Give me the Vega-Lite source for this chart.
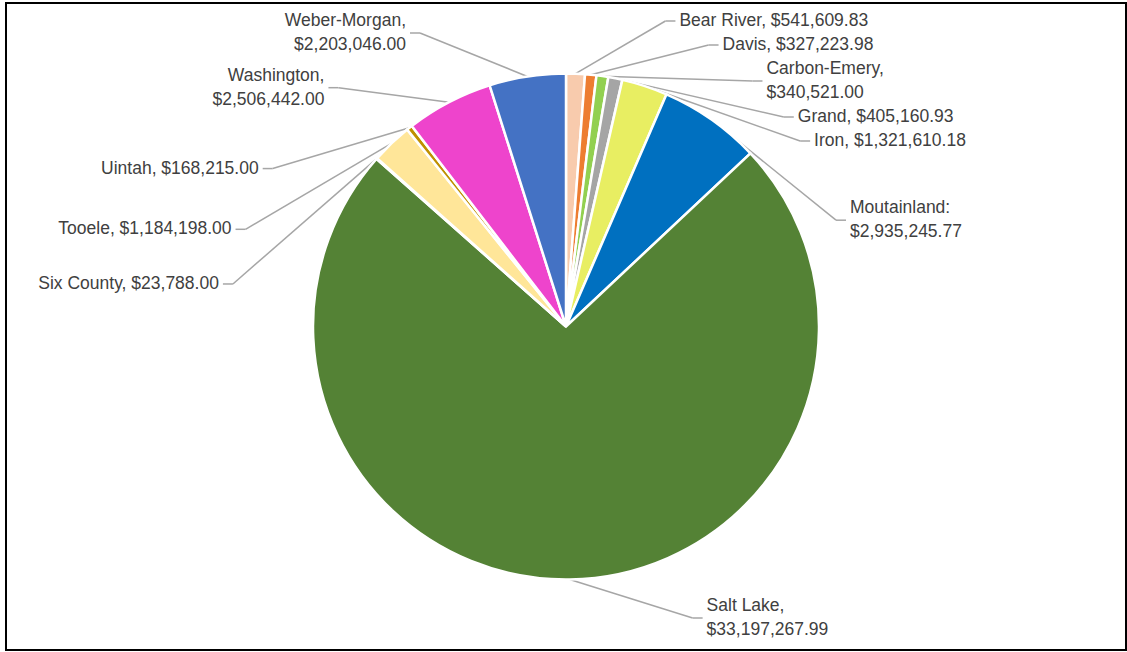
{
  "$schema": "https://vega.github.io/schema/vega-lite/v6.json",
  "width": 1127,
  "height": 652,
  "autosize": {"type": "fit", "contains": "padding"},
  "padding": {"left": 6, "top": 3, "right": 1, "bottom": 2},
  "background": "white",
  "config": {"view": {"stroke": "black", "strokeWidth": 2}},
  "data": {
    "values": [
      {"order": 1, "name": "Bear River", "value": 541609.83, "label": "Bear River, $541,609.83"},
      {"order": 2, "name": "Davis", "value": 327223.98, "label": "Davis, $327,223.98"},
      {"order": 3, "name": "Carbon-Emery", "value": 340521.00, "label": "Carbon-Emery,\n$340,521.00"},
      {"order": 4, "name": "Grand", "value": 405160.93, "label": "Grand, $405,160.93"},
      {"order": 5, "name": "Iron", "value": 1321610.18, "label": "Iron, $1,321,610.18"},
      {"order": 6, "name": "Moutainland", "value": 2935245.77, "label": "Moutainland:\n$2,935,245.77"},
      {"order": 7, "name": "Salt Lake", "value": 33197267.99, "label": "Salt Lake,\n$33,197,267.99"},
      {"order": 8, "name": "Six County", "value": 23788.00, "label": "Six County, $23,788.00"},
      {"order": 9, "name": "Tooele", "value": 1184198.00, "label": "Tooele, $1,184,198.00"},
      {"order": 10, "name": "Uintah", "value": 168215.00, "label": "Uintah, $168,215.00"},
      {"order": 11, "name": "Washington", "value": 2506442.00, "label": "Washington,\n$2,506,442.00"},
      {"order": 12, "name": "Weber-Morgan", "value": 2203046.00, "label": "Weber-Morgan,\n$2,203,046.00"}
    ]
  },
  "transform": [
    {"calculate": "pow(datum.value, 0.7)", "as": "pw"},
    {"window": [{"op": "sum", "field": "value", "as": "cum"}, {"op": "sum", "field": "pw", "as": "cumpw"}], "sort": [{"field": "order", "order": "ascending"}]},
    {"joinaggregate": [{"op": "sum", "field": "value", "as": "total"}, {"op": "sum", "field": "pw", "as": "totpw"}]},
    {"calculate": "2*PI*(datum.cum - datum.value/2)/datum.total", "as": "mid"},
    {"calculate": "2*PI*(datum.cumpw - datum.pw/2)/datum.totpw", "as": "la"},
    {"calculate": "datum.mid < PI ? 'R' : 'L'", "as": "side"},
    {"calculate": "datum.mid < PI ? 1 : -1", "as": "sg"},
    {"calculate": "datum.sg * datum.order", "as": "rank"},
    {"calculate": "indexof(datum.label, '\\n') >= 0 ? 48 : 24", "as": "h"},
    {"calculate": "clamp(330*cos(datum.la), -(323.5 - datum.h/2 - 8), 323.5 - datum.h/2 - 6)", "as": "ny"},
    {"window": [{"op": "sum", "field": "h", "as": "cumh"}], "groupby": ["side"], "sort": [{"field": "rank", "order": "ascending"}]},
    {"calculate": "datum.cumh - datum.h/2", "as": "S"},
    {"calculate": "datum.ny + datum.S", "as": "k"},
    {"window": [{"op": "min", "field": "k", "as": "mk"}], "groupby": ["side"], "sort": [{"field": "rank", "order": "ascending"}]},
    {"calculate": "datum.mk - datum.S", "as": "c"},
    {"calculate": "datum.sg*(datum.sg > 0 ? 300 : 350)*sqrt(max(0, 1 - pow(datum.c/330, 2)))", "as": "lx"},
    {"calculate": "datum.c + (datum.h - 24)/2", "as": "ly"},
    {"calculate": "253*sin(datum.mid)", "as": "ax"},
    {"calculate": "253*cos(datum.mid)", "as": "ay"},
    {"calculate": "datum.lx - datum.sg*14", "as": "bx"},
    {"calculate": "datum.lx - datum.sg*4", "as": "tx"}
  ],
  "layer": [
    {
      "mark": {"type": "rule", "color": "#A6A6A6", "strokeWidth": 1.5},
      "encoding": {
        "x": {"field": "ax", "type": "quantitative", "axis": null, "scale": {"domain": [-560, 560], "nice": false, "zero": false}},
        "y": {"field": "ay", "type": "quantitative", "axis": null, "scale": {"domain": [-323.5, 323.5], "nice": false, "zero": false}},
        "x2": {"field": "bx"},
        "y2": {"field": "c"}
      }
    },
    {
      "mark": {"type": "rule", "color": "#A6A6A6", "strokeWidth": 1.5},
      "encoding": {
        "x": {"field": "bx", "type": "quantitative", "axis": null, "scale": {"domain": [-560, 560], "nice": false, "zero": false}},
        "y": {"field": "c", "type": "quantitative", "axis": null, "scale": {"domain": [-323.5, 323.5], "nice": false, "zero": false}},
        "x2": {"field": "tx"},
        "y2": {"field": "c"}
      }
    },
    {
      "mark": {"type": "arc", "outerRadius": 253, "stroke": "white", "strokeWidth": 2.5},
      "encoding": {
        "theta": {"field": "value", "type": "quantitative", "stack": true},
        "order": {"field": "order", "type": "quantitative"},
        "color": {
          "field": "name",
          "type": "nominal",
          "legend": null,
          "scale": {
            "domain": ["Bear River", "Davis", "Carbon-Emery", "Grand", "Iron", "Moutainland", "Salt Lake", "Six County", "Tooele", "Uintah", "Washington", "Weber-Morgan"],
            "range": ["#F8CBAD", "#ED7D31", "#92D050", "#A5A5A5", "#E8EE62", "#0070C0", "#548235", "#9DC3E6", "#FFE699", "#BF9000", "#EE44CC", "#4472C4"]
          }
        }
      }
    },
    {
      "mark": {
        "type": "text",
        "font": "Liberation Sans",
        "fontSize": 17.5,
        "color": "#404040",
        "lineBreak": "\n",
        "lineHeight": 24,
        "align": {"expr": "datum.sg > 0 ? 'left' : 'right'"},
        "baseline": "middle"
      },
      "encoding": {
        "x": {"field": "lx", "type": "quantitative", "axis": null, "scale": {"domain": [-560, 560], "nice": false, "zero": false}},
        "y": {"field": "ly", "type": "quantitative", "axis": null, "scale": {"domain": [-323.5, 323.5], "nice": false, "zero": false}},
        "text": {"field": "label"}
      }
    }
  ]
}
